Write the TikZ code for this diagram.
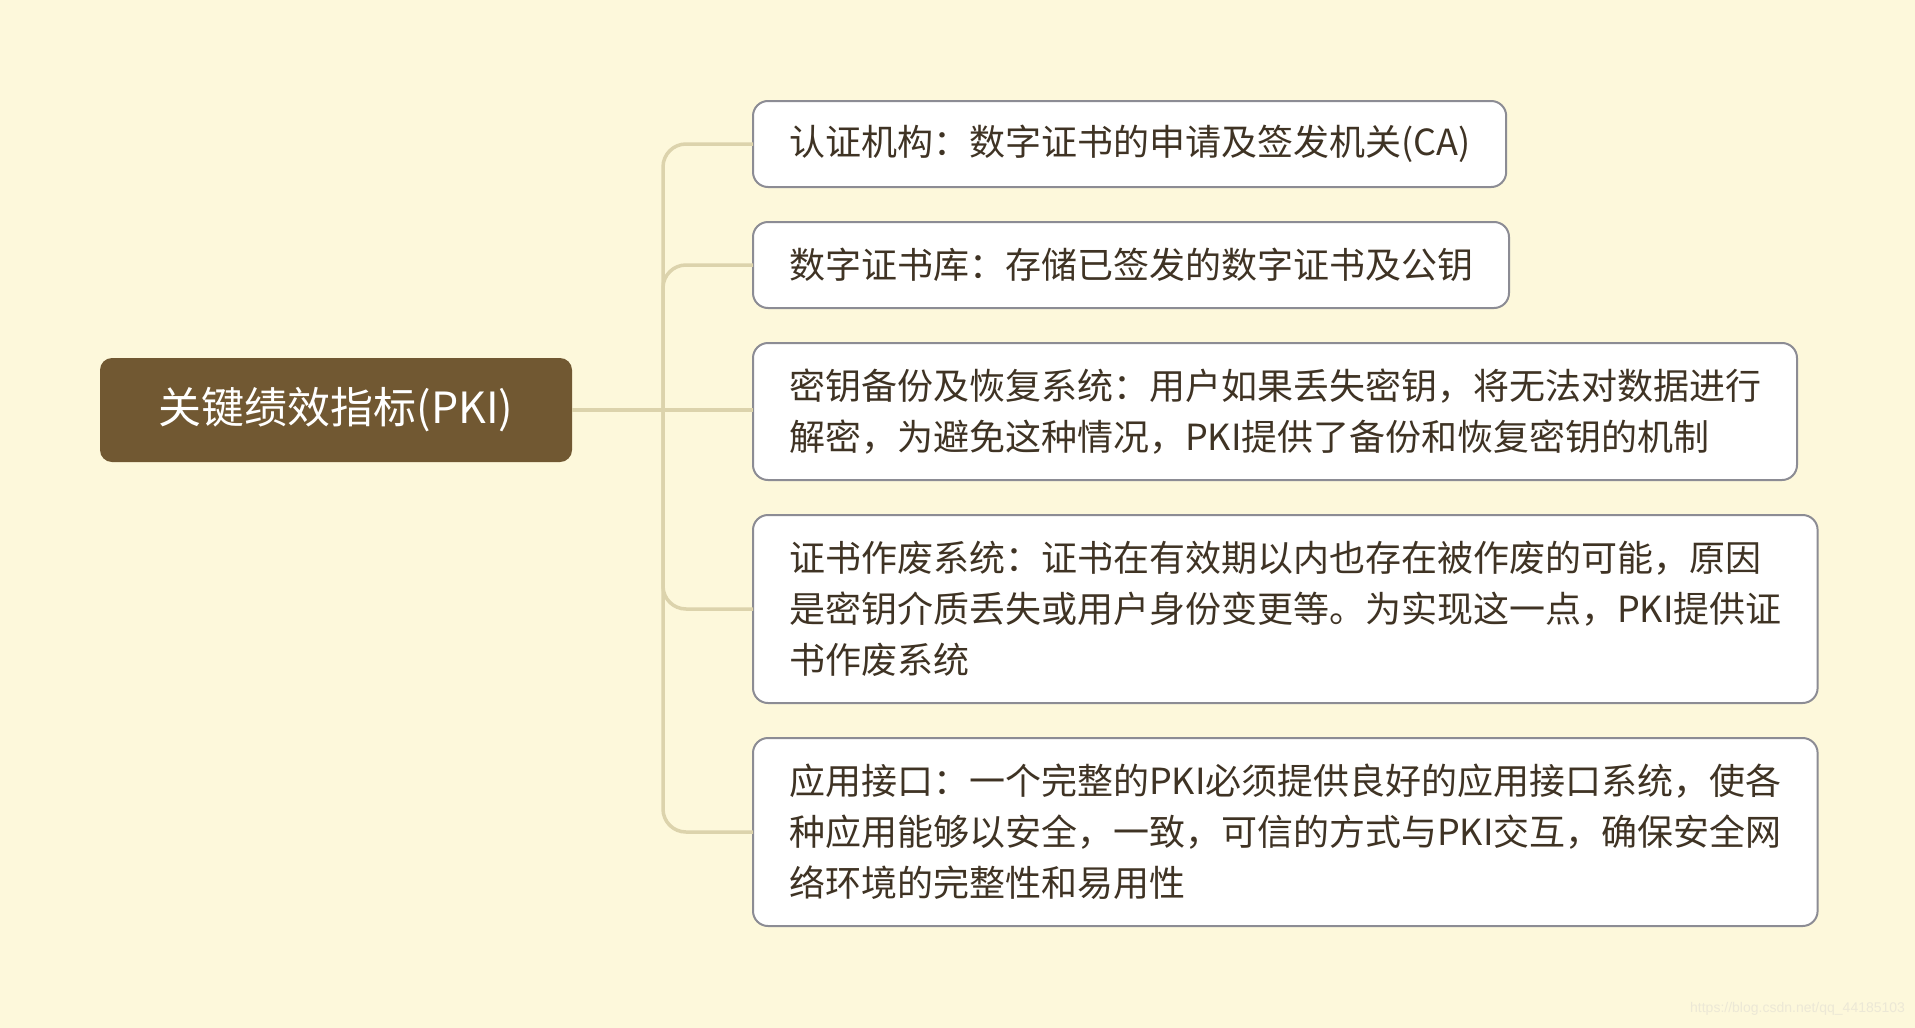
\documentclass[tikz,border=0pt]{standalone}
\usepackage{fontspec}
\setmainfont{Noto Sans CJK SC}
\newfontfamily\markfont{Liberation Sans}
\usetikzlibrary{positioning}

\definecolor{paper}{HTML}{FDF8DB}
\definecolor{rootbrown}{HTML}{715832}
\definecolor{inkbrown}{HTML}{3F3324}
\definecolor{edgegray}{HTML}{8C8C94}
\definecolor{twig}{HTML}{DCD3AC}
\definecolor{markgray}{HTML}{ECE8D6}

\begin{document}
\begin{tikzpicture}[
    x=1pt, y=-1pt,
    every node/.append style={inner sep=0, outer sep=0},
    topic/.style={fill=rootbrown, rounded corners=12pt, text=white,
      font=\fontsize{43}{48}\selectfont, minimum width=472pt, minimum height=104pt},
    part/.style={draw=edgegray, line width=2pt, fill=white, rounded corners=15pt,
      text=inkbrown, align=left, inner xsep=36pt, font=\fontsize{36}{51}\selectfont},
    branch/.style={draw=twig, line width=3.5pt, rounded corners=23pt},
  ]
        \useasboundingbox[fill=paper] (0,0) rectangle (1915,1028);

        \node [topic, anchor=north west] (pki) at (100,358) {关键绩效指标(PKI)};

        \node [part, anchor=north west, minimum height=86pt] (part1) at (753,101)
          {认证机构：数字证书的申请及签发机关(CA)};
        \node [part, below right=35pt and 0pt of part1.south west, minimum height=86pt] (part2)
          {数字证书库：存储已签发的数字证书及公钥};
        \node [part, below right=35pt and 0pt of part2.south west, minimum height=137pt] (part3)
          {密钥备份及恢复系统：用户如果丢失密钥，将无法对数据进行\\
           解密，为避免这种情况，PKI提供了备份和恢复密钥的机制};
        \node [part, below right=35pt and 0pt of part3.south west, minimum height=188pt] (part4)
          {证书作废系统：证书在有效期以内也存在被作废的可能，原因\\
           是密钥介质丢失或用户身份变更等。为实现这一点，PKI提供证\\
           书作废系统};
        \node [part, below right=35pt and 0pt of part4.south west, minimum height=188pt] (part5)
          {应用接口：一个完整的PKI必须提供良好的应用接口系统，使各\\
           种应用能够以安全，一致，可信的方式与PKI交互，确保安全网\\
           络环境的完整性和易用性};

        % Connect the parts
        \coordinate [right=91pt of pki.east] (hub);
        \draw [branch] (pki.east) -- (pki.east -| part3.west);
        \foreach \i in {1, 2, 4, 5}{%
          \draw [branch] (hub) |- (part\i.west);
        };

        \node [text=markgray, font=\markfont\fontsize{14}{16}\selectfont, anchor=east] (mark)
          at (1905,1009) {https://blog.csdn.net/qq\_44185103};
      \end{tikzpicture}
\end{document}
